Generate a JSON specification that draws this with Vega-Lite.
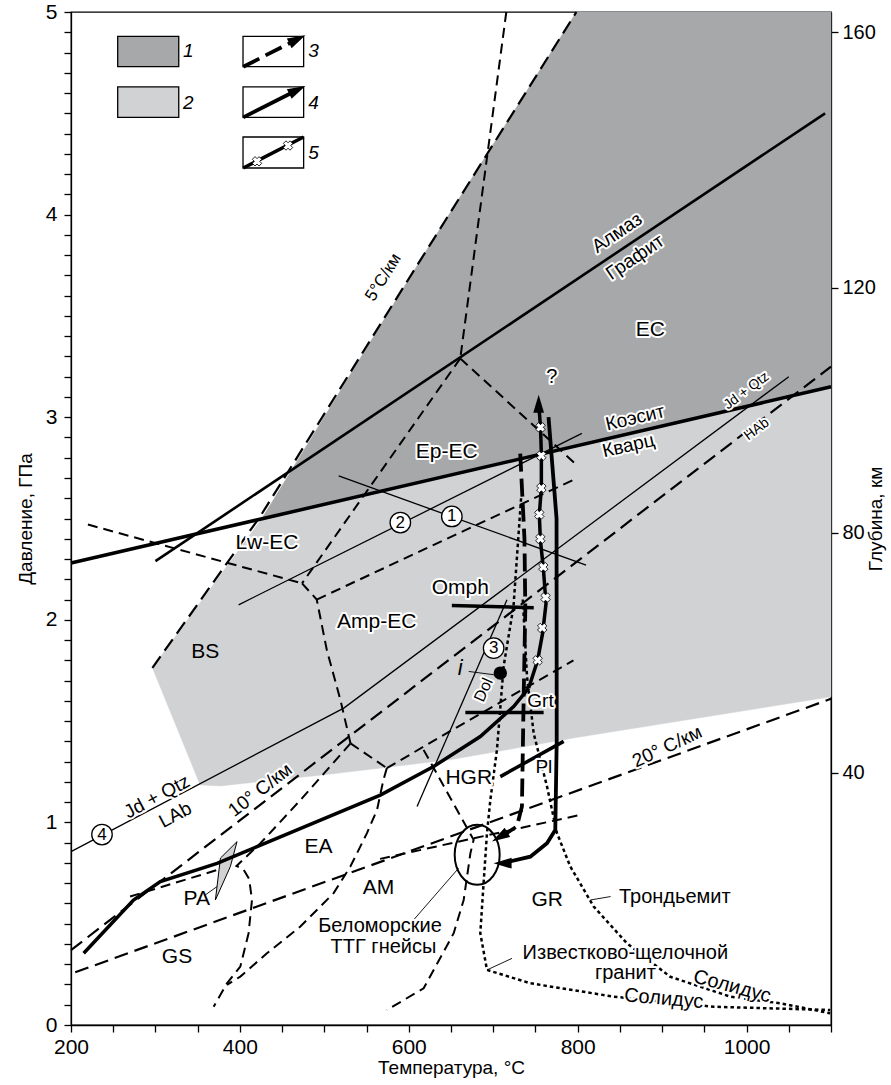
{
"$schema":"https://vega.github.io/schema/vega-lite/v6.json",
"width":760,"height":1013,
"autosize":{"type":"none"},
"padding":{"left":71,"top":12,"right":60,"bottom":60},
"config":{"font":"Liberation Sans","view":{"stroke":"black","strokeWidth":1.3},"text":{"font":"Liberation Sans"}},
"datasets":{
"poly":[
{"id":"L","o":1,"T":296.4,"P":1.763},{"id":"L","o":2,"T":426,"P":2.50},{"id":"L","o":3,"T":1100,"P":3.15},{"id":"L","o":4,"T":1100,"P":1.62},{"id":"L","o":5,"T":800,"P":1.42},{"id":"L","o":6,"T":650,"P":1.31},{"id":"L","o":7,"T":500,"P":1.235},{"id":"L","o":8,"T":377,"P":1.18},{"id":"L","o":9,"T":353,"P":1.185},
{"id":"D","o":1,"T":426,"P":2.50},{"id":"D","o":2,"T":622,"P":3.83},{"id":"D","o":3,"T":798.5,"P":5.0},{"id":"D","o":4,"T":1100,"P":5.0},{"id":"D","o":5,"T":1100,"P":3.15},
{"id":"PA","o":1,"T":371,"P":0.617},{"id":"PA","o":2,"T":377,"P":0.824},{"id":"PA","o":3,"T":396.6,"P":0.905},{"id":"PA","o":4,"T":388.7,"P":0.782}
],
"lines":[
{"id":"geo5","s":"geo","o":1,"T":296.4,"P":1.763},{"id":"geo5","s":"geo","o":2,"T":424,"P":2.51},{"id":"geo5","s":"geo","o":3,"T":622,"P":3.83},{"id":"geo5","s":"geo","o":4,"T":798.5,"P":5.0},
{"id":"geo10","s":"geo","o":1,"T":200,"P":0.37},{"id":"geo10","s":"geo","o":2,"T":1100,"P":3.25},
{"id":"geo20","s":"geo","o":1,"T":205,"P":0.26},{"id":"geo20","s":"geo","o":2,"T":1100,"P":1.61},
{"id":"coes","s":"thick","o":1,"T":200,"P":2.28},{"id":"coes","s":"thick","o":2,"T":1100,"P":3.15},
{"id":"diam","s":"med","o":1,"T":300,"P":2.29},{"id":"diam","s":"med","o":2,"T":1093,"P":4.5},
{"id":"f1","s":"dash","o":1,"T":715.5,"P":5.0},{"id":"f1","s":"dash","o":2,"T":661,"P":3.29},
{"id":"f2","s":"dash","o":1,"T":661,"P":3.29},{"id":"f2","s":"dash","o":2,"T":800,"P":2.76},
{"id":"f3","s":"dash","o":1,"T":661,"P":3.29},{"id":"f3","s":"dash","o":2,"T":473.6,"P":2.18},
{"id":"f4","s":"dash","o":1,"T":220,"P":2.47},{"id":"f4","s":"dash","o":2,"T":473.6,"P":2.18},
{"id":"f5","s":"dash","o":1,"T":473.6,"P":2.18},{"id":"f5","s":"dash","o":2,"T":491,"P":2.10},{"id":"f5","s":"dash","o":3,"T":503,"P":1.85},{"id":"f5","s":"dash","o":4,"T":519,"P":1.605},{"id":"f5","s":"dash","o":5,"T":531,"P":1.39},
{"id":"f6","s":"dash","o":1,"T":531,"P":1.39},{"id":"f6","s":"dash","o":2,"T":574,"P":1.268},
{"id":"f7","s":"dash","o":1,"T":491,"P":2.10},{"id":"f7","s":"dash","o":2,"T":684.7,"P":2.477},{"id":"f7","s":"dash","o":3,"T":800,"P":2.70},
{"id":"f8","s":"dash","o":1,"T":531,"P":1.39},{"id":"f8","s":"dash","o":2,"T":471.6,"P":1.11},{"id":"f8","s":"dash","o":3,"T":424.3,"P":0.897},{"id":"f8","s":"dash","o":4,"T":396,"P":0.785},{"id":"f8","s":"dash","o":5,"T":404,"P":0.77},{"id":"f8","s":"dash","o":6,"T":411,"P":0.72},{"id":"f8","s":"dash","o":7,"T":414.3,"P":0.617},{"id":"f8","s":"dash","o":8,"T":410.3,"P":0.453},{"id":"f8","s":"dash","o":9,"T":400.5,"P":0.288},{"id":"f8","s":"dash","o":10,"T":384.7,"P":0.206},{"id":"f8","s":"dash","o":11,"T":368.9,"P":0.09},
{"id":"f9","s":"dash","o":1,"T":574,"P":1.268},{"id":"f9","s":"dash","o":2,"T":570,"P":1.21},{"id":"f9","s":"dash","o":3,"T":562.4,"P":1.062},{"id":"f9","s":"dash","o":4,"T":550.5,"P":0.947},{"id":"f9","s":"dash","o":5,"T":530.8,"P":0.782},{"id":"f9","s":"dash","o":6,"T":511,"P":0.651},{"id":"f9","s":"dash","o":7,"T":471.6,"P":0.486},{"id":"f9","s":"dash","o":8,"T":432,"P":0.354},{"id":"f9","s":"dash","o":9,"T":400.5,"P":0.239},{"id":"f9","s":"dash","o":10,"T":384.7,"P":0.198},
{"id":"f10","s":"dash","o":1,"T":574,"P":1.268},{"id":"f10","s":"dash","o":2,"T":649,"P":1.45},{"id":"f10","s":"dash","o":3,"T":795,"P":1.80},
{"id":"f11","s":"dash","o":1,"T":617.5,"P":1.358},{"id":"f11","s":"dash","o":2,"T":676.8,"P":0.914},{"id":"f11","s":"dash","o":3,"T":673,"P":0.848},{"id":"f11","s":"dash","o":4,"T":665,"P":0.617},{"id":"f11","s":"dash","o":5,"T":653.2,"P":0.453},{"id":"f11","s":"dash","o":6,"T":617.6,"P":0.181},{"id":"f11","s":"dash","o":7,"T":574,"P":0.074},
{"id":"f12","s":"dash","o":1,"T":566,"P":0.82},{"id":"f12","s":"dash","o":2,"T":803,"P":1.037},
{"id":"fpa","s":"dash","o":1,"T":270,"P":0.634},{"id":"fpa","s":"dash","o":2,"T":373,"P":0.765},
{"id":"l4","s":"thin","o":1,"T":200,"P":0.856},{"id":"l4","s":"thin","o":2,"T":523,"P":1.564},{"id":"l4","s":"thin","o":3,"T":1050,"P":3.2},
{"id":"l1","s":"thin","o":1,"T":517,"P":2.71},{"id":"l1","s":"thin","o":2,"T":810,"P":2.27},
{"id":"l2","s":"thin","o":1,"T":398.5,"P":2.074},{"id":"l2","s":"thin","o":2,"T":805,"P":2.92},
{"id":"l3","s":"thin","o":1,"T":609.8,"P":1.078},{"id":"l3","s":"thin","o":2,"T":716.3,"P":2.099},
{"id":"hi","s":"hair","o":1,"T":671,"P":1.745},{"id":"hi","s":"hair","o":2,"T":702.5,"P":1.728},
{"id":"httg","s":"hair","o":1,"T":605.8,"P":0.519},{"id":"httg","s":"hair","o":2,"T":659,"P":0.774},
{"id":"hpa","s":"hair","o":1,"T":359,"P":0.642},{"id":"hpa","s":"hair","o":2,"T":372.9,"P":0.683},
{"id":"htr","s":"hair","o":1,"T":815,"P":0.617},{"id":"htr","s":"hair","o":2,"T":839,"P":0.634},
{"id":"hgr","s":"hair","o":1,"T":692.7,"P":0.272},{"id":"hgr","s":"hair","o":2,"T":722.3,"P":0.329},
{"id":"sol1","s":"dot","o":1,"T":733,"P":2.6},{"id":"sol1","s":"dot","o":2,"T":724,"P":2.066},{"id":"sol1","s":"dot","o":3,"T":712.3,"P":1.77},{"id":"sol1","s":"dot","o":4,"T":704.4,"P":1.358},{"id":"sol1","s":"dot","o":5,"T":696.6,"P":1.111},{"id":"sol1","s":"dot","o":6,"T":692.6,"P":0.947},{"id":"sol1","s":"dot","o":7,"T":688.6,"P":0.70},{"id":"sol1","s":"dot","o":8,"T":684.7,"P":0.453},{"id":"sol1","s":"dot","o":9,"T":692.6,"P":0.272},{"id":"sol1","s":"dot","o":10,"T":743.9,"P":0.206},{"id":"sol1","s":"dot","o":11,"T":842.6,"P":0.14},{"id":"sol1","s":"dot","o":12,"T":961,"P":0.09},{"id":"sol1","s":"dot","o":13,"T":1099,"P":0.074},
{"id":"sol2","s":"dot","o":1,"T":735,"P":2.1},{"id":"sol2","s":"dot","o":2,"T":740,"P":1.72},{"id":"sol2","s":"dot","o":3,"T":747.9,"P":1.44},{"id":"sol2","s":"dot","o":4,"T":763.7,"P":1.177},{"id":"sol2","s":"dot","o":5,"T":775.5,"P":0.947},{"id":"sol2","s":"dot","o":6,"T":791.3,"P":0.782},{"id":"sol2","s":"dot","o":7,"T":818.9,"P":0.585},{"id":"sol2","s":"dot","o":8,"T":858.4,"P":0.403},{"id":"sol2","s":"dot","o":9,"T":909.7,"P":0.238},{"id":"sol2","s":"dot","o":10,"T":980.8,"P":0.14},{"id":"sol2","s":"dot","o":11,"T":1040,"P":0.107},{"id":"sol2","s":"dot","o":12,"T":1099,"P":0.058},
{"id":"curve","s":"thick","o":1,"T":215,"P":0.354},{"id":"curve","s":"thick","o":2,"T":274,"P":0.617},{"id":"curve","s":"thick","o":3,"T":305.8,"P":0.708},{"id":"curve","s":"thick","o":4,"T":373,"P":0.798},{"id":"curve","s":"thick","o":5,"T":420.3,"P":0.88},{"id":"curve","s":"thick","o":6,"T":566.3,"P":1.135},{"id":"curve","s":"thick","o":7,"T":629.4,"P":1.276},{"id":"curve","s":"thick","o":8,"T":684.7,"P":1.424},{"id":"curve","s":"thick","o":9,"T":724.2,"P":1.572},{"id":"curve","s":"thick","o":10,"T":742,"P":1.663},
{"id":"omph","s":"thick","o":1,"T":651,"P":2.07},{"id":"omph","s":"thick","o":2,"T":748,"P":2.06},
{"id":"grt","s":"thick","o":1,"T":667,"P":1.542},{"id":"grt","s":"thick","o":2,"T":759.7,"P":1.542},
{"id":"pl","s":"thick","o":1,"T":708.4,"P":1.226},{"id":"pl","s":"thick","o":2,"T":783.4,"P":1.40},
{"id":"p4","s":"p4","o":1,"T":765.5,"P":3.0},{"id":"p4","s":"p4","o":2,"T":775,"P":2.5},{"id":"p4","s":"p4","o":3,"T":775.2,"P":1.407},{"id":"p4","s":"p4","o":4,"T":773.5,"P":0.963},{"id":"p4","s":"p4","o":5,"T":763.7,"P":0.897},{"id":"p4","s":"p4","o":6,"T":743.9,"P":0.831},{"id":"p4","s":"p4","o":7,"T":712,"P":0.80},
{"id":"p3","s":"p3","o":1,"T":732,"P":2.82},{"id":"p3","s":"p3","o":2,"T":737,"P":2.4},{"id":"p3","s":"p3","o":3,"T":738,"P":2.05},{"id":"p3","s":"p3","o":4,"T":736,"P":1.605},{"id":"p3","s":"p3","o":5,"T":734,"P":1.078},{"id":"p3","s":"p3","o":6,"T":728,"P":0.98},{"id":"p3","s":"p3","o":7,"T":708,"P":0.925},
{"id":"p5","s":"p5","o":1,"T":742,"P":1.663},{"id":"p5","s":"p5","o":2,"T":752.6,"P":1.80},{"id":"p5","s":"p5","o":3,"T":758.5,"P":1.934},{"id":"p5","s":"p5","o":4,"T":762.5,"P":2.08},{"id":"p5","s":"p5","o":5,"T":759.3,"P":2.257},{"id":"p5","s":"p5","o":6,"T":755.8,"P":2.395},{"id":"p5","s":"p5","o":7,"T":754.6,"P":2.52},{"id":"p5","s":"p5","o":8,"T":757,"P":2.65},{"id":"p5","s":"p5","o":9,"T":757,"P":2.815},{"id":"p5","s":"p5","o":10,"T":756,"P":2.95},{"id":"p5","s":"p5","o":11,"T":754,"P":3.06},
{"id":"lg3","s":"p3","o":1,"T":404,"P":4.73},{"id":"lg3","s":"p3","o":2,"T":468,"P":4.865},
{"id":"lg4","s":"p4","o":1,"T":404,"P":4.48},{"id":"lg4","s":"p4","o":2,"T":468,"P":4.615},
{"id":"lg5","s":"p5","o":1,"T":404,"P":4.23},{"id":"lg5","s":"p5","o":2,"T":475.5,"P":4.383}
],
"rects":[
{"T":255.3,"T2":327.6,"P":4.73,"P2":4.88,"f":"#a7a8aa"},
{"T":255.3,"T2":327.6,"P":4.48,"P2":4.63,"f":"#d1d2d4"},
{"T":403.7,"T2":475.5,"P":4.73,"P2":4.88,"f":"white"},
{"T":403.7,"T2":475.5,"P":4.48,"P2":4.63,"f":"white"},
{"T":403.7,"T2":475.5,"P":4.23,"P2":4.383,"f":"white"}
],
"arrows":[
{"T":753.8,"P":3.067,"a":0},
{"T":711.1,"P":0.7985,"a":270},
{"T":707.7,"P":0.928,"a":239},
{"T":468,"P":4.865,"a":63.6},
{"T":468,"P":4.615,"a":63.6}
],
"marks":[
{"T":756,"P":2.95},{"T":757,"P":2.81},{"T":757,"P":2.65},{"T":754.6,"P":2.52},{"T":755.8,"P":2.40},{"T":759.3,"P":2.26},{"T":762,"P":2.11},{"T":758,"P":1.96},{"T":752.6,"P":1.80},
{"T":420.3,"P":4.263},{"T":457,"P":4.341}
],
"circ":[
{"t":"1","T":651,"P":2.51},{"t":"2","T":590,"P":2.48},{"t":"3","T":700.5,"P":1.86},{"t":"4","T":236.7,"P":0.94}
],
"texts":[
{"t":"EC","T":886,"P":3.43,"a":0,"fs":21,"h":1},
{"t":"Ep-EC","T":645,"P":2.83,"a":0,"fs":21,"h":1},
{"t":"Lw-EC","T":432,"P":2.38,"a":0,"fs":21,"h":1},
{"t":"Amp-EC","T":562,"P":1.99,"a":0,"fs":21,"h":1},
{"t":"BS","T":359,"P":1.84,"a":0,"fs":21,"h":0},
{"t":"Omph","T":661,"P":2.156,"a":0,"fs":21,"h":1},
{"t":"Grt","T":756,"P":1.597,"a":0,"fs":19,"h":1},
{"t":"Pl","T":760,"P":1.275,"a":0,"fs":19,"h":1},
{"t":"HGR","T":671,"P":1.218,"a":0,"fs":21,"h":1},
{"t":"GR","T":764,"P":0.617,"a":0,"fs":21,"h":0},
{"t":"EA","T":493,"P":0.88,"a":0,"fs":21,"h":0},
{"t":"AM","T":564,"P":0.675,"a":0,"fs":21,"h":0},
{"t":"GS","T":325.5,"P":0.337,"a":0,"fs":21,"h":0},
{"t":"PA","T":349,"P":0.62,"a":0,"fs":21,"h":0},
{"t":"Трондьемит","T":915,"P":0.634,"a":0,"fs":20,"h":0},
{"t":"Известково-щелочной","T":856.5,"P":0.354,"a":0,"fs":20,"h":1},
{"t":"гранит","T":856.5,"P":0.255,"a":0,"fs":20,"h":1},
{"t":"Солидус","T":983,"P":0.19,"a":15,"fs":20,"h":1},
{"t":"Солидус","T":902,"P":0.13,"a":5,"fs":20,"h":1},
{"t":"Беломорские","T":566,"P":0.49,"a":0,"fs":20,"h":1},
{"t":"ТТГ гнейсы","T":570,"P":0.387,"a":0,"fs":20,"h":1},
{"t":"Алмаз","T":846.6,"P":3.91,"a":-34,"fs":19,"h":1},
{"t":"Графит","T":868,"P":3.79,"a":-34,"fs":19,"h":1},
{"t":"Коэсит","T":868,"P":2.997,"a":-13,"fs":19,"h":1},
{"t":"Кварц","T":860,"P":2.86,"a":-13,"fs":19,"h":1},
{"t":"?","T":769.5,"P":3.2,"a":0,"fs":20,"h":1},
{"t":"Jd + Qtz","T":301.8,"P":1.127,"a":-28,"fs":19,"h":1},
{"t":"LAb","T":323.5,"P":1.037,"a":-28,"fs":19,"h":1},
{"t":"Jd + Qtz","T":1000,"P":3.13,"a":-37,"fs":14,"h":1},
{"t":"HAb","T":1012,"P":2.94,"a":-37,"fs":14,"h":1},
{"t":"10° C/км","T":424,"P":1.16,"a":-37.5,"fs":19,"h":1},
{"t":"20° C/км","T":906,"P":1.374,"a":-25,"fs":19,"h":1},
{"t":"5°C/км","T":570,"P":3.69,"a":-58,"fs":17,"h":1},
{"t":"Dol","T":688.7,"P":1.654,"a":-66,"fs":16,"h":1}
],
"itexts":[
{"t":"i","T":661,"P":1.76,"fs":22},
{"t":"1","T":339,"P":4.806,"fs":19},
{"t":"2","T":339,"P":4.55,"fs":19},
{"t":"3","T":487.3,"P":4.806,"fs":19},
{"t":"4","T":487.3,"P":4.55,"fs":19},
{"t":"5","T":487.3,"P":4.305,"fs":19}
]
},
"layer":[
{
"encoding":{
"x":{"field":"T","type":"quantitative","scale":{"domain":[200,1100],"nice":false,"zero":false},
"axis":{"values":[200,250,300,350,400,450,500,550,600,650,700,750,800,850,900,950,1000,1050,1100],"labelExpr":"datum.value % 200 == 0 && datum.value < 1100 ? datum.value : ''","title":"Температура, °C","titleFontSize":19,"titleFontWeight":"normal","titleColor":"black","labelFontSize":21,"labelColor":"black","tickSize":7,"tickColor":"black","tickWidth":1.3,"domainColor":"black","domainWidth":1.3,"grid":false,"labelPadding":4,"titlePadding":1,"labelOverlap":false,"labelFlush":false}},
"y":{"field":"P","type":"quantitative","scale":{"domain":[0,5],"nice":false,"zero":false},
"axis":{"values":[0,0.1,0.2,0.3,0.4,0.5,0.6,0.7,0.8,0.9,1,1.1,1.2,1.3,1.4,1.5,1.6,1.7,1.8,1.9,2,2.1,2.2,2.3,2.4,2.5,2.6,2.7,2.8,2.9,3,3.1,3.2,3.3,3.4,3.5,3.6,3.7,3.8,3.9,4,4.1,4.2,4.3,4.4,4.5,4.6,4.7,4.8,4.9,5],"labelExpr":"datum.value == round(datum.value) ? datum.value : ''","title":"Давление, ГПа","titleFontSize":19,"titleFontWeight":"normal","titleColor":"black","labelFontSize":21,"labelColor":"black","tickSize":7,"tickColor":"black","tickWidth":1.3,"domainColor":"black","domainWidth":1.3,"grid":false,"labelPadding":7,"titlePadding":10,"labelOverlap":false,"labelFlush":false}}
},
"layer":[
{"data":{"name":"poly"},"transform":[{"filter":"datum.id=='L'"}],"mark":{"type":"line","interpolate":"linear-closed","fill":"#d1d2d4","stroke":"#d1d2d4","strokeWidth":0.5},"encoding":{"order":{"field":"o","type":"quantitative"}}},
{"data":{"name":"poly"},"transform":[{"filter":"datum.id=='D'"}],"mark":{"type":"line","interpolate":"linear-closed","fill":"#a7a8aa","stroke":"#a7a8aa","strokeWidth":0.5},"encoding":{"order":{"field":"o","type":"quantitative"}}},
{"data":{"name":"poly"},"transform":[{"filter":"datum.id=='PA'"}],"mark":{"type":"line","interpolate":"linear-closed","fill":"#d1d2d4","stroke":"black","strokeWidth":1},"encoding":{"order":{"field":"o","type":"quantitative"}}},
{"data":{"name":"rects"},"mark":{"type":"rect","stroke":"black","strokeWidth":1.3},"encoding":{"x2":{"field":"T2"},"y2":{"field":"P2"},"fill":{"field":"f","type":"nominal","scale":null}}},
{"data":{"name":"lines"},"transform":[{"filter":"datum.s=='geo'"}],"mark":{"type":"line","color":"black","strokeWidth":2.2,"strokeDash":[14,7]},"encoding":{"detail":{"field":"id"},"order":{"field":"o","type":"quantitative"}}},
{"data":{"name":"lines"},"transform":[{"filter":"datum.s=='dash'"}],"mark":{"type":"line","color":"black","strokeWidth":2,"strokeDash":[10,6]},"encoding":{"detail":{"field":"id"},"order":{"field":"o","type":"quantitative"}}},
{"data":{"name":"lines"},"transform":[{"filter":"datum.s=='dot'"}],"mark":{"type":"line","color":"black","strokeWidth":2.5,"strokeDash":[3.5,3]},"encoding":{"detail":{"field":"id"},"order":{"field":"o","type":"quantitative"}}},
{"data":{"name":"lines"},"transform":[{"filter":"datum.s=='thin'"}],"mark":{"type":"line","color":"black","strokeWidth":1.3},"encoding":{"detail":{"field":"id"},"order":{"field":"o","type":"quantitative"}}},
{"data":{"name":"lines"},"transform":[{"filter":"datum.s=='hair'"}],"mark":{"type":"line","color":"black","strokeWidth":0.9},"encoding":{"detail":{"field":"id"},"order":{"field":"o","type":"quantitative"}}},
{"data":{"name":"lines"},"transform":[{"filter":"datum.s=='med'"}],"mark":{"type":"line","color":"black","strokeWidth":2.6},"encoding":{"detail":{"field":"id"},"order":{"field":"o","type":"quantitative"}}},
{"data":{"name":"lines"},"transform":[{"filter":"datum.s=='thick'"}],"mark":{"type":"line","color":"black","strokeWidth":3.5},"encoding":{"detail":{"field":"id"},"order":{"field":"o","type":"quantitative"}}},
{"data":{"name":"lines"},"transform":[{"filter":"datum.s=='p4'"}],"mark":{"type":"line","color":"black","strokeWidth":3.8},"encoding":{"detail":{"field":"id"},"order":{"field":"o","type":"quantitative"}}},
{"data":{"name":"lines"},"transform":[{"filter":"datum.s=='p3'"}],"mark":{"type":"line","color":"black","strokeWidth":3.8,"strokeDash":[18,7]},"encoding":{"detail":{"field":"id"},"order":{"field":"o","type":"quantitative"}}},
{"data":{"name":"lines"},"transform":[{"filter":"datum.s=='p5'"}],"mark":{"type":"line","color":"black","strokeWidth":3.5},"encoding":{"detail":{"field":"id"},"order":{"field":"o","type":"quantitative"}}},
{"data":{"name":"arrows"},"mark":{"type":"point","shape":"M0,-1L0.6,1L-0.6,1Z","filled":true,"color":"black","size":324,"opacity":1},"encoding":{"angle":{"field":"a","type":"quantitative","scale":null}}},
{"data":{"name":"marks"},"mark":{"type":"point","shape":"cross","angle":45,"filled":true,"fill":"white","stroke":"black","strokeWidth":0.8,"size":90,"opacity":1}},
{"data":{"values":[{"T":708.4,"P":1.737}]},"mark":{"type":"point","shape":"circle","filled":true,"color":"black","size":180,"opacity":1}},
{"data":{"values":[{"T":681,"P":0.84}]},"mark":{"type":"point","shape":"M0,-1A0.75,1,0,1,1,0,1A0.75,1,0,1,1,0,-1Z","filled":false,"color":"black","strokeWidth":2,"size":3600,"opacity":1}},
{"data":{"name":"circ"},"mark":{"type":"point","shape":"circle","filled":true,"fill":"white","stroke":"black","strokeWidth":1.3,"size":420,"opacity":1}},
{"data":{"name":"circ"},"mark":{"type":"text","fontSize":17,"color":"black","baseline":"middle","align":"center"},"encoding":{"text":{"field":"t"}}},
{"data":{"name":"texts"},"transform":[{"filter":"datum.h==1"}],"mark":{"type":"text","stroke":"white","strokeWidth":4,"strokeJoin":"round","fill":"white","baseline":"middle","align":"center"},"encoding":{"text":{"field":"t"},"angle":{"field":"a","type":"quantitative","scale":null},"size":{"field":"fs","type":"quantitative","scale":null}}},
{"data":{"name":"texts"},"mark":{"type":"text","color":"black","baseline":"middle","align":"center"},"encoding":{"text":{"field":"t"},"angle":{"field":"a","type":"quantitative","scale":null},"size":{"field":"fs","type":"quantitative","scale":null}}},
{"data":{"name":"itexts"},"mark":{"type":"text","color":"black","fontStyle":"italic","baseline":"middle","align":"center"},"encoding":{"text":{"field":"t"},"size":{"field":"fs","type":"quantitative","scale":null}}}
]
},
{
"data":{"values":[{"P":0}]},
"mark":{"type":"rule","opacity":0},
"encoding":{"y":{"field":"P","type":"quantitative","scale":{"domain":[0,5],"nice":false,"zero":false},
"axis":{"orient":"right","values":[1.244,2.43,3.64,4.9],"labelExpr":"datum.value < 2 ? '40' : datum.value < 3 ? '80' : datum.value < 4 ? '120' : '160'","title":"Глубина, км","titleAngle":-90,"titleFontSize":19,"titleFontWeight":"normal","titleColor":"black","labelFontSize":20,"labelColor":"black","tickSize":7,"tickColor":"black","tickWidth":1.3,"domainColor":"black","domainWidth":1.3,"grid":false,"labelPadding":4,"titlePadding":10,"labelOverlap":false,"labelFlush":false}}}
}
],
"resolve":{"scale":{"y":"independent"}}
}
